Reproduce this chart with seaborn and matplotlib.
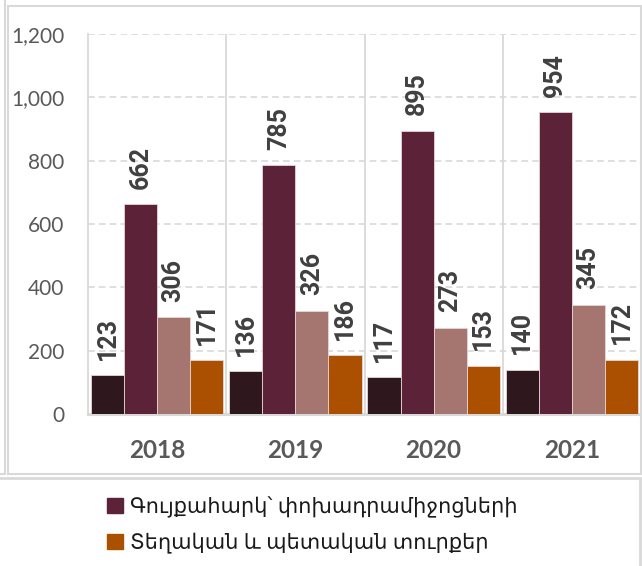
import matplotlib
matplotlib.use("Agg")
import matplotlib.pyplot as plt
import matplotlib.patches as patches
from matplotlib.ticker import FuncFormatter, FixedLocator
import seaborn as sns
import pandas as pd

# data
years = ["2018", "2019", "2020", "2021"]
series = ["_s1", "Գույքահարկ՝ փոխադրամիջոցների", "_s3", "Տեղական և պետական տուրքեր"]
s1_values = [123, 136, 117, 140]
s2_values = [662, 785, 895, 954]
s3_values = [306, 326, 273, 345]
s4_values = [171, 186, 153, 172]
colours = ["#2E171D", "#5C2237", "#A5756F", "#AA5000"]
legend_series = [1, 3]

rows = []
for name, vals in zip(series, [s1_values, s2_values, s3_values, s4_values]):
    for yr, v in zip(years, vals):
        rows.append({"year": yr, "series": name, "value": v})
df = pd.DataFrame(rows)

sns.set_theme(style="white")
plt.rcParams['font.family'] = ['Lato', 'DejaVu Sans']

fig = plt.figure(figsize=(6.42, 5.66), dpi=100)
ax = fig.add_axes([88 / 642, 1 - 414 / 566, (641 - 88) / 642, (414 - 34) / 566])

sns.barplot(data=df, x="year", y="value", hue="series", order=years, hue_order=series,
            palette=colours, saturation=1, width=0.957, gap=0, edgecolor="#e6d6d6",
            linewidth=0.6, legend=False, ax=ax, zorder=3)

text_colour = "#404040"
tick_colour = "#595959"
grid_colour = "#d9d9d9"

for cont in ax.containers:
    ax.bar_label(cont, labels=[f"{b.get_height():.0f}" for b in cont], rotation=90,
                 padding=11, fontsize=18, fontweight="semibold", color=text_colour,
                 family=["Roboto", "DejaVu Sans"])

ax.set_ylim(0, 1200)
ax.set_xlim(-0.5, 3.5)
ax.set_yticks(range(0, 1201, 200))
ax.yaxis.set_major_formatter(FuncFormatter(lambda v, p: f"{v:,.0f}"))
ax.xaxis.set_minor_locator(FixedLocator([0.5, 1.5, 2.5]))
ax.set_xlabel("")
ax.set_ylabel("")

ax.yaxis.grid(True, linestyle=(0, (4, 2.5)), color=grid_colour, lw=1.2, zorder=0)
ax.xaxis.grid(True, which="minor", color=grid_colour, lw=1.3, zorder=0)
ax.xaxis.grid(False, which="major")
ax.set_axisbelow(True)

ax.tick_params(axis="y", length=0, pad=17, labelsize=15, labelcolor=tick_colour)
ax.tick_params(axis="x", which="both", length=0, pad=18, labelsize=17.5, labelcolor=tick_colour)
for lbl in ax.get_xticklabels():
    lbl.set_fontweight("bold")

ax.spines["top"].set_visible(False)
for s in ["left", "right"]:
    ax.spines[s].set_color(grid_colour)
    ax.spines[s].set_linewidth(1.3)
ax.spines["bottom"].set_color(grid_colour)
ax.spines["bottom"].set_linewidth(2.2)

# outer frames
W, H = 642, 566
def frame(x0, y0, x1, y1, lw=1.5):
    fig.patches.append(patches.Rectangle((x0 / W, 1 - y1 / H), (x1 - x0) / W, (y1 - y0) / H,
                                         transform=fig.transFigure, fill=False,
                                         edgecolor=grid_colour, lw=lw))
frame(8, 6, 641, 474)
frame(-5, -5, 5, 474)
frame(-2, 478, 640, 575, lw=2)

handles = [patches.Patch(color=colours[i]) for i in legend_series]
labels = [series[i] for i in legend_series]
fig.legend(handles, labels, loc="center left", bbox_to_anchor=(107 / W, 1 - 525 / H),
           frameon=False, handlelength=0.75, handleheight=0.75, borderpad=0, borderaxespad=0,
           handletextpad=0.35, labelspacing=0.7, labelcolor="#1a1a1a",
           prop={"family": ["Noto Sans", "DejaVu Sans"], "size": 15})

fig.savefig("out.png", dpi=100)
